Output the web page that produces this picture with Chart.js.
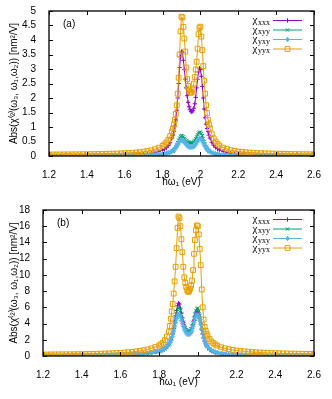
<!DOCTYPE html>
<html>
<head>
<meta charset="utf-8">
<script src="https://cdn.jsdelivr.net/npm/chart.js@4.4.0/dist/chart.umd.min.js"></script>
<style>
body { margin: 0; background: #fff; }
#wrap { position: relative; width: 332px; height: 399px; }
.panel { position: absolute; left: 0; width: 332px; }
</style>
</head>
<body>
<div id="wrap">
  <div class="panel" style="top:0;height:199px"><canvas id="chartA"></canvas></div>
  <div class="panel" style="top:199px;height:200px"><canvas id="chartB"></canvas></div>
</div>
<script>
// photon energy (eV), shared by both panels; finer sampling across the two peaks
let energy = [
  1.20,1.22,1.24,1.26,1.28,1.30,1.32,1.34,1.36,1.38,1.40,1.42,1.44,1.46,1.48,1.50,1.52,1.54,1.56,1.58,1.60,1.62,1.64,1.66,1.68,1.70,1.72,1.74,1.76,1.78,
  1.80,1.81,1.82,1.83,1.84,
  1.850,1.855,1.860,1.865,1.870,1.875,1.880,1.885,1.890,1.895,1.900,1.905,1.910,1.915,1.920,1.925,1.930,1.935,1.940,1.945,
  1.950,1.955,1.960,1.965,1.970,1.975,1.980,1.985,1.990,1.995,2.000,2.005,2.010,2.015,2.020,2.025,2.030,2.035,2.040,2.045,2.050,
  2.06,2.07,2.08,2.09,2.10,
  2.12,2.14,2.16,2.18,2.20,2.22,2.24,2.26,2.28,2.30,2.32,2.34,2.36,2.38,2.40,2.42,2.44,2.46,2.48,2.50,2.52,2.54,2.56,2.58,2.60
];

// panel (a)
let xxx_a = [
  0.012,0.012,0.013,0.013,0.014,0.014,0.015,0.016,0.016,0.017,0.018,0.019,0.020,0.021,0.023,0.024,0.026,0.028,0.031,0.034,0.037,0.041,0.046,0.052,0.060,0.070,0.083,0.100,0.125,0.160,
  0.20,0.24,0.29,0.36,0.46,
  0.62,0.72,0.85,1.02,1.25,1.58,2.00,2.50,3.05,3.42,3.60,3.58,3.30,2.98,2.65,2.35,2.08,1.85,1.70,1.60,
  1.53,1.52,1.56,1.65,1.80,2.02,2.35,2.65,2.90,3.03,2.98,2.75,2.40,2.00,1.62,1.32,1.10,0.95,0.84,0.72,0.62,
  0.47,0.37,0.30,0.25,0.21,
  0.160,0.125,0.100,0.083,0.070,0.060,0.052,0.046,0.041,0.037,0.034,0.031,0.028,0.026,0.024,0.023,0.021,0.020,0.019,0.018,0.017,0.016,0.015,0.015,0.014
];
let xyy_a = [
  0.004,0.004,0.004,0.005,0.005,0.005,0.005,0.006,0.006,0.006,0.007,0.007,0.008,0.008,0.009,0.009,0.010,0.011,0.012,0.013,0.014,0.016,0.018,0.020,0.023,0.026,0.030,0.035,0.042,0.052,
  0.062,0.072,0.085,0.10,0.12,
  0.15,0.17,0.21,0.25,0.31,0.38,0.46,0.55,0.62,0.68,0.70,0.69,0.66,0.61,0.57,0.53,0.50,0.48,0.46,0.45,
  0.45,0.45,0.47,0.50,0.54,0.60,0.66,0.73,0.79,0.82,0.82,0.77,0.70,0.60,0.50,0.41,0.33,0.27,0.22,0.18,0.155,
  0.115,0.090,0.072,0.060,0.051,
  0.040,0.033,0.027,0.023,0.020,0.018,0.016,0.014,0.013,0.012,0.011,0.010,0.009,0.009,0.008,0.008,0.007,0.007,0.007,0.006,0.006,0.006,0.005,0.005,0.005
];
let yxy_a = [
  0.005,0.005,0.005,0.006,0.006,0.006,0.007,0.007,0.007,0.008,0.008,0.009,0.009,0.010,0.011,0.011,0.012,0.013,0.014,0.016,0.017,0.019,0.022,0.025,0.028,0.032,0.037,0.044,0.053,0.065,
  0.078,0.090,0.105,0.12,0.14,
  0.17,0.19,0.22,0.26,0.30,0.35,0.40,0.45,0.50,0.54,0.55,0.54,0.52,0.48,0.44,0.40,0.36,0.33,0.31,0.30,
  0.30,0.30,0.31,0.33,0.36,0.41,0.46,0.52,0.57,0.60,0.60,0.57,0.52,0.46,0.39,0.33,0.28,0.24,0.20,0.17,0.15,
  0.12,0.098,0.082,0.070,0.060,
  0.048,0.040,0.034,0.029,0.025,0.022,0.020,0.018,0.016,0.015,0.014,0.013,0.012,0.011,0.010,0.010,0.009,0.009,0.008,0.008,0.008,0.007,0.007,0.007,0.006
];
let yyx_a = [
  0.050,0.051,0.052,0.053,0.054,0.055,0.056,0.058,0.059,0.061,0.062,0.064,0.066,0.068,0.071,0.074,0.077,0.081,0.085,0.090,0.096,0.103,0.111,0.121,0.134,0.150,0.170,0.196,0.232,0.283,
  0.35,0.40,0.47,0.56,0.68,
  0.85,0.95,1.08,1.25,1.45,1.75,2.15,2.70,3.50,4.30,4.80,4.78,4.45,4.05,3.60,3.05,2.65,2.42,2.30,2.22,
  2.18,2.20,2.30,2.50,2.72,2.98,3.25,3.70,4.20,4.42,4.46,4.12,3.65,3.10,2.60,2.15,1.75,1.48,1.25,1.08,0.95,
  0.75,0.61,0.50,0.42,0.36,
  0.29,0.24,0.20,0.175,0.155,0.14,0.128,0.118,0.11,0.103,0.097,0.092,0.088,0.084,0.080,0.077,0.074,0.071,0.069,0.066,0.064,0.062,0.060,0.058,0.056
];

// panel (b)
let xxx_b = [
  0.05,0.05,0.05,0.055,0.055,0.06,0.06,0.065,0.065,0.07,0.075,0.08,0.085,0.09,0.095,0.10,0.11,0.12,0.13,0.14,0.155,0.17,0.19,0.21,0.235,0.265,0.30,0.35,0.41,0.49,
  0.58,0.68,0.80,0.95,1.15,
  1.45,1.65,1.95,2.30,2.80,3.40,4.20,4.95,5.60,6.20,6.50,6.40,5.90,5.30,4.70,4.15,3.70,3.35,3.10,2.95,
  2.85,2.83,2.90,3.10,3.40,3.85,4.40,4.90,5.30,5.50,5.50,5.15,4.60,3.95,3.30,2.70,2.20,1.82,1.50,1.27,1.08,
  0.82,0.65,0.53,0.44,0.37,
  0.28,0.22,0.18,0.15,0.13,0.115,0.10,0.09,0.085,0.08,0.075,0.07,0.065,0.06,0.06,0.055,0.055,0.05,0.05,0.05,0.045,0.045,0.045,0.04,0.04
];
let xyy_b = [
  0.045,0.045,0.05,0.05,0.05,0.055,0.055,0.06,0.06,0.065,0.07,0.075,0.08,0.085,0.09,0.095,0.10,0.11,0.12,0.13,0.145,0.16,0.175,0.195,0.22,0.25,0.28,0.32,0.38,0.45,
  0.53,0.62,0.73,0.87,1.05,
  1.32,1.52,1.80,2.15,2.60,3.20,3.90,4.60,5.20,5.75,6.00,5.95,5.60,5.10,4.60,4.15,3.75,3.45,3.25,3.12,
  3.05,3.05,3.15,3.35,3.65,4.10,4.65,5.15,5.60,5.85,5.90,5.55,5.00,4.30,3.60,2.95,2.40,1.97,1.62,1.36,1.15,
  0.86,0.67,0.54,0.45,0.38,
  0.29,0.23,0.19,0.16,0.135,0.12,0.105,0.095,0.088,0.082,0.076,0.071,0.066,0.062,0.059,0.056,0.053,0.051,0.049,0.047,0.045,0.044,0.042,0.041,0.04
];
let yxy_b = [
  0.05,0.05,0.055,0.055,0.06,0.06,0.065,0.065,0.07,0.075,0.08,0.085,0.09,0.095,0.10,0.11,0.12,0.13,0.14,0.155,0.17,0.19,0.21,0.23,0.26,0.29,0.33,0.38,0.45,0.53,
  0.62,0.72,0.84,1.00,1.20,
  1.50,1.70,1.95,2.28,2.65,3.10,3.60,4.10,4.60,4.95,5.10,5.05,4.80,4.40,4.00,3.62,3.30,3.05,2.85,2.72,
  2.65,2.66,2.75,2.92,3.20,3.62,4.10,4.55,4.90,5.05,5.05,4.80,4.40,3.85,3.30,2.78,2.30,1.93,1.62,1.38,1.20,
  0.92,0.73,0.60,0.50,0.43,
  0.33,0.26,0.21,0.18,0.155,0.135,0.12,0.11,0.10,0.093,0.086,0.08,0.075,0.07,0.066,0.062,0.059,0.056,0.053,0.051,0.049,0.047,0.045,0.043,0.042
];
let yyx_b = [
  0.18,0.185,0.19,0.195,0.20,0.205,0.21,0.215,0.22,0.23,0.235,0.245,0.255,0.265,0.275,0.29,0.30,0.32,0.34,0.36,0.39,0.42,0.46,0.51,0.57,0.63,0.71,0.81,0.94,1.10,
  1.30,1.45,1.65,1.95,2.40,
  3.00,3.70,4.60,5.50,6.40,7.70,9.20,11.0,13.3,15.8,17.2,17.0,16.0,14.4,12.8,11.0,9.70,9.00,8.50,8.10,
  7.90,8.00,8.30,8.70,9.30,10.6,12.6,14.3,15.5,16.1,16.0,15.0,13.2,11.2,8.20,6.00,4.50,3.60,3.10,2.75,2.50,
  2.10,1.80,1.58,1.42,1.28,
  1.08,0.94,0.84,0.75,0.68,0.62,0.57,0.53,0.49,0.46,0.43,0.41,0.39,0.37,0.35,0.34,0.32,0.31,0.30,0.29,0.28,0.27,0.26,0.255,0.25
];

let xTicks = [1.2, 1.4, 1.6, 1.8, 2, 2.2, 2.4, 2.6];
let yTicks_a = [0, 0.5, 1, 1.5, 2, 2.5, 3, 3.5, 4, 4.5, 5];
let yTicks_b = [0, 2, 4, 6, 8, 10, 12, 14, 16, 18];

let names = ['xxx', 'xyy', 'yxy', 'yyx'];
let colors = ['#9400d3', '#009e73', '#56b4e9', '#e69f00'];
let markers = ['cross', 'crossRot', 'star', 'rect'];
let radii = [2.2, 2.4, 2.4, 3.4];

let sans = "'Liberation Sans', Arial, sans-serif";

// gnuplot look: box, inward mirrored ticks, key, panel tag
const gnuFrame = {
  id: 'gnuFrame',
  afterDatasetsDraw(chart, args, opts) {
    const ctx = chart.ctx;
    const a = chart.chartArea;
    const x = chart.scales.x, y = chart.scales.y;
    ctx.save();
    ctx.strokeStyle = '#000';
    ctx.lineWidth = 1;
    ctx.beginPath();
    x.ticks.forEach(t => {
      let px = Math.round(x.getPixelForValue(t.value)) + 0.5;
      ctx.moveTo(px, a.bottom); ctx.lineTo(px, a.bottom - 4);
      ctx.moveTo(px, a.top); ctx.lineTo(px, a.top + 4);
    });
    y.ticks.forEach(t => {
      let py = Math.round(y.getPixelForValue(t.value)) + 0.5;
      ctx.moveTo(a.left, py); ctx.lineTo(a.left + 4, py);
      ctx.moveTo(a.right, py); ctx.lineTo(a.right - 4, py);
    });
    ctx.stroke();
    ctx.lineWidth = 1.3;
    ctx.strokeRect(a.left, a.top, a.right - a.left, a.bottom - a.top);

    // panel tag
    ctx.fillStyle = '#000';
    ctx.font = '10px ' + sans;
    ctx.textBaseline = 'middle';
    ctx.textAlign = 'left';
    ctx.fillText(opts.tag, a.left + 14, a.top + 13);

    // key
    chart.data.datasets.forEach((ds, i) => {
      let ry = a.top + 9 + i * 9.5;
      let textRight = a.right - 44;
      ctx.font = "8px 'Liberation Serif', serif";
      let subW = ctx.measureText(names[i]).width;
      ctx.textAlign = 'left';
      ctx.textBaseline = 'alphabetic';
      ctx.fillStyle = '#000';
      ctx.fillText(names[i], textRight - subW, ry + 4.5);
      ctx.font = "11px 'Liberation Serif', serif";
      let chiW = ctx.measureText('χ').width;
      ctx.fillText('χ', textRight - subW - chiW - 0.5, ry + 3);

      ctx.strokeStyle = colors[i];
      ctx.lineWidth = 1;
      ctx.beginPath();
      ctx.moveTo(a.right - 41, ry + 0.5);
      ctx.lineTo(a.right - 12, ry + 0.5);
      ctx.stroke();
      ctx.fillStyle = 'rgba(0,0,0,0)';
      Chart.helpers.drawPoint(ctx, {
        pointStyle: markers[i], radius: radii[i], rotation: 0, borderWidth: 1
      }, a.right - 26.5, ry + 0.5);
    });
    ctx.restore();
  }
};

function makeDatasets(series) {
  return series.map((ys, i) => ({
    label: names[i],
    data: energy.map((e, k) => ({ x: e, y: ys[k] })),
    borderColor: colors[i],
    backgroundColor: 'rgba(0,0,0,0)',
    pointBackgroundColor: 'rgba(0,0,0,0)',
    pointBorderColor: colors[i],
    borderWidth: 1,
    pointBorderWidth: 1,
    pointStyle: markers[i],
    pointRadius: radii[i],
    tension: 0,
    order: 3 - i
  }));
}

function makeChart(id, series, yTicks, yMax, yWidth, topPad, tag) {
  return new Chart(document.getElementById(id), {
    type: 'line',
    data: { datasets: makeDatasets(series) },
    options: {
      responsive: true,
      maintainAspectRatio: false,
      animation: false,
      events: [],
      layout: { padding: { left: 0, right: 18, top: topPad, bottom: 0 } },
      plugins: {
        legend: { display: false },
        tooltip: { enabled: false },
        gnuFrame: { tag: tag }
      },
      scales: {
        x: {
          type: 'linear',
          min: 1.2, max: 2.6,
          afterBuildTicks: s => { s.ticks = xTicks.map(v => ({ value: v })); },
          afterFit: s => { s.height = 43; },
          grid: { display: false },
          border: { display: false },
          ticks: {
            autoSkip: false, maxRotation: 0, padding: 5,
            color: '#000', font: { family: sans, size: 10 },
            callback: v => String(v)
          },
          title: {
            display: true, text: 'ħω₁ (eV)', color: '#000',
            font: { family: sans, size: 10 },
            padding: { top: 0, bottom: 11 }
          }
        },
        y: {
          min: 0, max: yMax,
          afterBuildTicks: s => { s.ticks = yTicks.map(v => ({ value: v })); },
          afterFit: s => { s.width = yWidth; },
          grid: { display: false },
          border: { display: false },
          ticks: {
            autoSkip: false, padding: 5,
            color: '#000', font: { family: sans, size: 10 },
            callback: v => String(v)
          },
          title: {
            display: true, text: 'Abs(χ⁽²⁾(ω₃, ω₁,ω₂)) [nm²/V]', color: '#000',
            font: { family: sans, size: 10 },
            padding: { top: 8, bottom: 0 }
          }
        }
      }
    },
    plugins: [gnuFrame]
  });
}

makeChart('chartA', [xxx_a, xyy_a, yxy_a, yyx_a], yTicks_a, 5, 49, 10, '(a)');
makeChart('chartB', [xxx_b, xyy_b, yxy_b, yyx_b], yTicks_b, 18, 43, 11, '(b)');
</script>
</body>
</html>
